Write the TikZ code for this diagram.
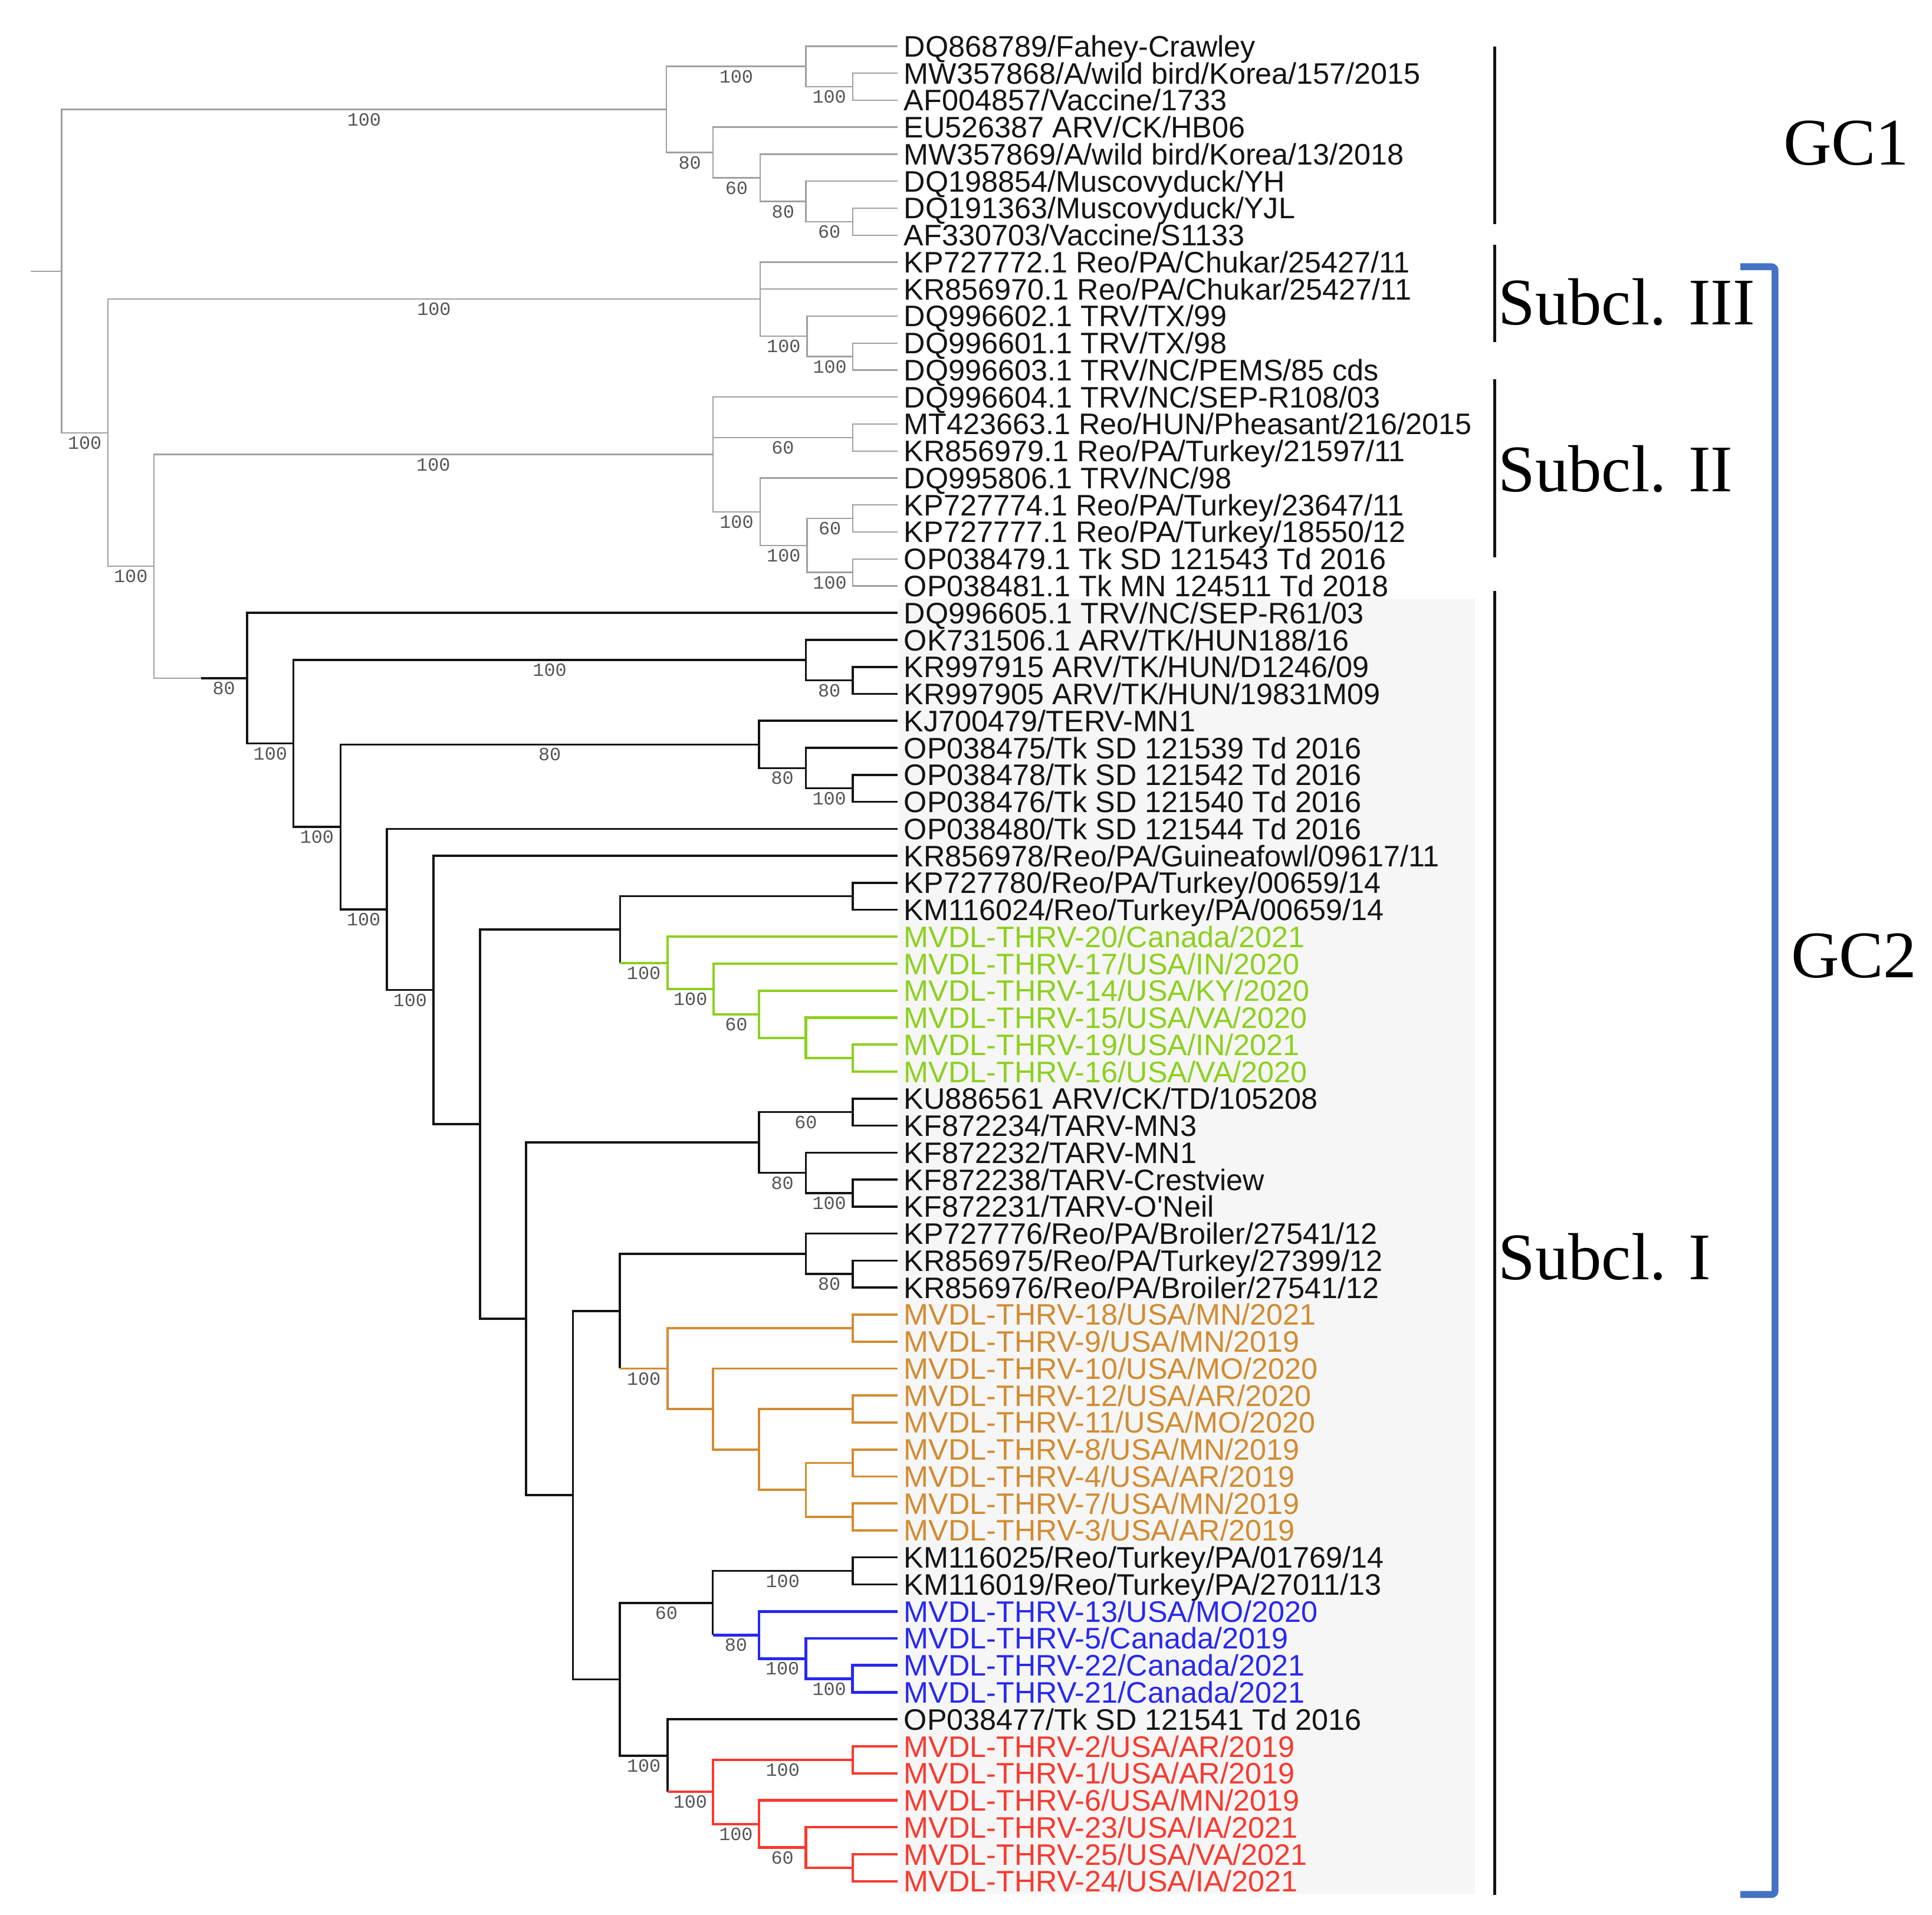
\documentclass[tikz,border=0pt]{standalone}
\usepackage{fontspec}
\newfontfamily\leaffont{Liberation Sans}
\newfontfamily\bsfont{Liberation Mono}
\newfontfamily\cladefont{Liberation Serif}
\definecolor{gryc}{RGB}{160,160,160}
\definecolor{blkc}{RGB}{20,20,20}
\definecolor{grnc}{RGB}{141,208,30}
\definecolor{orgc}{RGB}{210,140,50}
\definecolor{bluc}{RGB}{40,40,240}
\definecolor{redc}{RGB}{248,58,48}
\definecolor{brkc}{RGB}{68,114,196}
\definecolor{bgc}{RGB}{246,246,246}
\definecolor{labc}{RGB}{85,85,85}
\newcommand\phyL[4]{\draw[#1] (#2) |- (#3) node[bs,pos=0.75]{#4};}
\newcommand\phyE[3]{\draw[#1] (#2) |- (#3);}
\newcommand\phyLeaf[3]{\node[leafn,#1] (l#2) at (728.5,{37.5+21.9*(#2-1)}) {#3};}
\begin{document}
\begin{tikzpicture}[x=0.5pt,y=-0.5pt,
  gryE/.style={draw=gryc, line width=0.55pt},
  blkE/.style={draw=blkc, line width=0.85pt},
  grnE/.style={draw=grnc, line width=1pt},
  orgE/.style={draw=orgc, line width=0.9pt},
  bluE/.style={draw=bluc, line width=1.15pt},
  redE/.style={draw=redc, line width=1pt},
  bs/.style={font={\bsfont\fontsize{7.6}{9}\selectfont}, text=labc, inner sep=0pt, yshift=-4.1pt},
  leafn/.style={font={\leaffont\fontsize{12.05}{14}\selectfont}, anchor=west, inner xsep=2.4pt, inner ysep=0pt, text height=8.63pt, text depth=0pt, text=blkc},
  gl/.style={text=grnc}, ol/.style={text=orgc}, ul/.style={text=bluc}, rl/.style={text=redc},
  clade/.style={font={\cladefont\fontsize{27}{30}\selectfont}, inner sep=0pt, text height=17.9pt, text depth=0pt, text=black},
  cbar/.style={draw=blkc, line width=1.2pt}
]
\useasboundingbox (0,0) rectangle (1568,1554);
% background of subclade I labels
\fill[bgc] (729,486) rectangle (1197,1537);

% ---------- internal nodes ----------
\coordinate (rootstub) at (24.8,220);
\coordinate (root) at (50,220);
\coordinate (gc1) at (541,88.8);
\coordinate (a123) at (654,53.9);
\coordinate (a23) at (692,70.35);
\coordinate (a48) at (578.6,123.75);
\coordinate (a58) at (617,144.3);
\coordinate (a68) at (654,163.4);
\coordinate (a78) at (692,179.85);
\coordinate (n2) at (87.5,351.2);
\coordinate (s3) at (617,242.8);
\coordinate (b1113) at (655,272.9);
\coordinate (b1213) at (692,289.35);
\coordinate (n3) at (124.8,459.6);
\coordinate (s2) at (578.6,368.75);
\coordinate (c1516) at (692,355.05);
\coordinate (c1721) at (617,415.3);
\coordinate (c1821) at (655,442.65);
\coordinate (c1819) at (692,420.75);
\coordinate (c2021) at (692,464.55);
\coordinate (sIg) at (163,550.4);
\coordinate (d22) at (200.5,550.4);
\coordinate (d23) at (238.2,603.4);
\coordinate (d2325) at (654,535.7);
\coordinate (d2425) at (692,552.15);
\coordinate (d26) at (276.3,671.1);
\coordinate (d2629) at (616,604.2);
\coordinate (d2729) at (654,623.3);
\coordinate (d2829) at (692,639.75);
\coordinate (d30) at (314,738.0);
\coordinate (d31) at (351.7,803.4);
\coordinate (d32) at (389.6,912.35);
\coordinate (d3239) at (503.2,754.4);
\coordinate (d3233) at (692,727.35);
\coordinate (g3439) at (541.7,781.4);
\coordinate (g3539) at (579,802.6);
\coordinate (g3639) at (616,823.15);
\coordinate (g3739) at (654,842.3);
\coordinate (g3839) at (692,858.75);
\coordinate (e40) at (427,1070.3);
\coordinate (e4044) at (616,927.2);
\coordinate (e4041) at (692,902.55);
\coordinate (e4244) at (654,951.8);
\coordinate (e4344) at (692,968.25);
\coordinate (f45) at (465,1213.4);
\coordinate (f4556) at (503.1,1064.05);
\coordinate (f4547) at (654,1017.5);
\coordinate (f4647) at (692,1033.95);
\coordinate (o4856) at (541.9,1110.6);
\coordinate (o4849) at (692,1077.75);
\coordinate (o5056) at (578.5,1143.45);
\coordinate (o5156) at (616,1176.3);
\coordinate (o5152) at (692,1143.45);
\coordinate (o5356) at (654,1209.15);
\coordinate (o5354) at (692,1187.25);
\coordinate (o5556) at (692,1231.05);
\coordinate (k5769) at (503.1,1362.8);
\coordinate (k5762) at (578.5,1300.9);
\coordinate (k5758) at (692,1274.85);
\coordinate (u5962) at (616,1326.9);
\coordinate (u6062) at (654,1346.0);
\coordinate (u6162) at (692,1362.45);
\coordinate (r6369) at (541.9,1424.75);
\coordinate (r6469) at (578.5,1454.2);
\coordinate (r6465) at (692,1428.15);
\coordinate (r6669) at (616,1480.2);
\coordinate (r6769) at (654,1499.3);
\coordinate (r6869) at (692,1515.75);

% ---------- leaves ----------
\phyLeaf{}{1}{DQ868789/Fahey-Crawley}
\phyLeaf{}{2}{MW357868/A/wild bird/Korea/157/2015}
\phyLeaf{}{3}{AF004857/Vaccine/1733}
\phyLeaf{}{4}{EU526387 ARV/CK/HB06}
\phyLeaf{}{5}{MW357869/A/wild bird/Korea/13/2018}
\phyLeaf{}{6}{DQ198854/Muscovyduck/YH}
\phyLeaf{}{7}{DQ191363/Muscovyduck/YJL}
\phyLeaf{}{8}{AF330703/Vaccine/S1133}
\phyLeaf{}{9}{KP727772.1 Reo/PA/Chukar/25427/11}
\phyLeaf{}{10}{KR856970.1 Reo/PA/Chukar/25427/11}
\phyLeaf{}{11}{DQ996602.1 TRV/TX/99}
\phyLeaf{}{12}{DQ996601.1 TRV/TX/98}
\phyLeaf{}{13}{DQ996603.1 TRV/NC/PEMS/85 cds}
\phyLeaf{}{14}{DQ996604.1 TRV/NC/SEP-R108/03}
\phyLeaf{}{15}{MT423663.1 Reo/HUN/Pheasant/216/2015}
\phyLeaf{}{16}{KR856979.1 Reo/PA/Turkey/21597/11}
\phyLeaf{}{17}{DQ995806.1 TRV/NC/98}
\phyLeaf{}{18}{KP727774.1 Reo/PA/Turkey/23647/11}
\phyLeaf{}{19}{KP727777.1 Reo/PA/Turkey/18550/12}
\phyLeaf{}{20}{OP038479.1 Tk SD 121543 Td 2016}
\phyLeaf{}{21}{OP038481.1 Tk MN 124511 Td 2018}
\phyLeaf{}{22}{DQ996605.1 TRV/NC/SEP-R61/03}
\phyLeaf{}{23}{OK731506.1 ARV/TK/HUN188/16}
\phyLeaf{}{24}{KR997915 ARV/TK/HUN/D1246/09}
\phyLeaf{}{25}{KR997905 ARV/TK/HUN/19831M09}
\phyLeaf{}{26}{KJ700479/TERV-MN1}
\phyLeaf{}{27}{OP038475/Tk SD 121539 Td 2016}
\phyLeaf{}{28}{OP038478/Tk SD 121542 Td 2016}
\phyLeaf{}{29}{OP038476/Tk SD 121540 Td 2016}
\phyLeaf{}{30}{OP038480/Tk SD 121544 Td 2016}
\phyLeaf{}{31}{KR856978/Reo/PA/Guineafowl/09617/11}
\phyLeaf{}{32}{KP727780/Reo/PA/Turkey/00659/14}
\phyLeaf{}{33}{KM116024/Reo/Turkey/PA/00659/14}
\phyLeaf{gl}{34}{MVDL-THRV-20/Canada/2021}
\phyLeaf{gl}{35}{MVDL-THRV-17/USA/IN/2020}
\phyLeaf{gl}{36}{MVDL-THRV-14/USA/KY/2020}
\phyLeaf{gl}{37}{MVDL-THRV-15/USA/VA/2020}
\phyLeaf{gl}{38}{MVDL-THRV-19/USA/IN/2021}
\phyLeaf{gl}{39}{MVDL-THRV-16/USA/VA/2020}
\phyLeaf{}{40}{KU886561 ARV/CK/TD/105208}
\phyLeaf{}{41}{KF872234/TARV-MN3}
\phyLeaf{}{42}{KF872232/TARV-MN1}
\phyLeaf{}{43}{KF872238/TARV-Crestview}
\phyLeaf{}{44}{KF872231/TARV-O'Neil}
\phyLeaf{}{45}{KP727776/Reo/PA/Broiler/27541/12}
\phyLeaf{}{46}{KR856975/Reo/PA/Turkey/27399/12}
\phyLeaf{}{47}{KR856976/Reo/PA/Broiler/27541/12}
\phyLeaf{ol}{48}{MVDL-THRV-18/USA/MN/2021}
\phyLeaf{ol}{49}{MVDL-THRV-9/USA/MN/2019}
\phyLeaf{ol}{50}{MVDL-THRV-10/USA/MO/2020}
\phyLeaf{ol}{51}{MVDL-THRV-12/USA/AR/2020}
\phyLeaf{ol}{52}{MVDL-THRV-11/USA/MO/2020}
\phyLeaf{ol}{53}{MVDL-THRV-8/USA/MN/2019}
\phyLeaf{ol}{54}{MVDL-THRV-4/USA/AR/2019}
\phyLeaf{ol}{55}{MVDL-THRV-7/USA/MN/2019}
\phyLeaf{ol}{56}{MVDL-THRV-3/USA/AR/2019}
\phyLeaf{}{57}{KM116025/Reo/Turkey/PA/01769/14}
\phyLeaf{}{58}{KM116019/Reo/Turkey/PA/27011/13}
\phyLeaf{ul}{59}{MVDL-THRV-13/USA/MO/2020}
\phyLeaf{ul}{60}{MVDL-THRV-5/Canada/2019}
\phyLeaf{ul}{61}{MVDL-THRV-22/Canada/2021}
\phyLeaf{ul}{62}{MVDL-THRV-21/Canada/2021}
\phyLeaf{}{63}{OP038477/Tk SD 121541 Td 2016}
\phyLeaf{rl}{64}{MVDL-THRV-2/USA/AR/2019}
\phyLeaf{rl}{65}{MVDL-THRV-1/USA/AR/2019}
\phyLeaf{rl}{66}{MVDL-THRV-6/USA/MN/2019}
\phyLeaf{rl}{67}{MVDL-THRV-23/USA/IA/2021}
\phyLeaf{rl}{68}{MVDL-THRV-25/USA/VA/2021}
\phyLeaf{rl}{69}{MVDL-THRV-24/USA/IA/2021}

% ---------- grey part of the tree ----------
\draw[gryE] (rootstub) -- (root);
\phyL{gryE}{root}{gc1}{100}
\phyL{gryE}{root}{n2}{100}
\phyL{gryE}{gc1}{a123}{100}
\phyE{gryE}{a123}{l1.west}
\phyL{gryE}{a123}{a23}{100}
\phyE{gryE}{a23}{l2.west}
\phyE{gryE}{a23}{l3.west}
\phyL{gryE}{gc1}{a48}{80}
\phyE{gryE}{a48}{l4.west}
\phyL{gryE}{a48}{a58}{60}
\phyE{gryE}{a58}{l5.west}
\phyL{gryE}{a58}{a68}{80}
\phyE{gryE}{a68}{l6.west}
\phyL{gryE}{a68}{a78}{60}
\phyE{gryE}{a78}{l7.west}
\phyE{gryE}{a78}{l8.west}
\phyL{gryE}{n2}{s3}{100}
\phyE{gryE}{s3}{l9.west}
\phyE{gryE}{s3}{l10.west}
\phyL{gryE}{s3}{b1113}{100}
\phyE{gryE}{b1113}{l11.west}
\phyL{gryE}{b1113}{b1213}{100}
\phyE{gryE}{b1213}{l12.west}
\phyE{gryE}{b1213}{l13.west}
\phyL{gryE}{n2}{n3}{100}
\phyL{gryE}{n3}{s2}{100}
\phyE{gryE}{s2}{l14.west}
\phyL{gryE}{s2}{c1516}{60}
\phyE{gryE}{c1516}{l15.west}
\phyE{gryE}{c1516}{l16.west}
\phyL{gryE}{s2}{c1721}{100}
\phyE{gryE}{c1721}{l17.west}
\phyL{gryE}{c1721}{c1821}{100}
\phyL{gryE}{c1821}{c1819}{60}
\phyE{gryE}{c1819}{l18.west}
\phyE{gryE}{c1819}{l19.west}
\phyL{gryE}{c1821}{c2021}{100}
\phyE{gryE}{c2021}{l20.west}
\phyE{gryE}{c2021}{l21.west}
\phyE{gryE}{n3}{sIg}

% ---------- subclade I (black) ----------
\draw[blkE] (sIg) -- (d22) node[bs,midway]{80};
\phyE{blkE}{d22}{l22.west}
\phyL{blkE}{d22}{d23}{100}
\phyL{blkE}{d23}{d2325}{100}
\phyE{blkE}{d2325}{l23.west}
\phyL{blkE}{d2325}{d2425}{80}
\phyE{blkE}{d2425}{l24.west}
\phyE{blkE}{d2425}{l25.west}
\phyL{blkE}{d23}{d26}{100}
\phyL{blkE}{d26}{d2629}{80}
\phyE{blkE}{d2629}{l26.west}
\phyL{blkE}{d2629}{d2729}{80}
\phyE{blkE}{d2729}{l27.west}
\phyL{blkE}{d2729}{d2829}{100}
\phyE{blkE}{d2829}{l28.west}
\phyE{blkE}{d2829}{l29.west}
\phyL{blkE}{d26}{d30}{100}
\phyE{blkE}{d30}{l30.west}
\phyL{blkE}{d30}{d31}{100}
\phyE{blkE}{d31}{l31.west}
\phyE{blkE}{d31}{d32}
\phyE{blkE}{d32}{d3239}
\phyE{blkE}{d3239}{d3233}
\phyE{blkE}{d3233}{l32.west}
\phyE{blkE}{d3233}{l33.west}
% green clade
\draw[blkE] (d3239) -- (d3239 |- g3439);
\draw[grnE] (d3239 |- g3439) -- (g3439) node[bs,midway]{100};
\phyE{grnE}{g3439}{l34.west}
\phyL{grnE}{g3439}{g3539}{100}
\phyE{grnE}{g3539}{l35.west}
\phyL{grnE}{g3539}{g3639}{60}
\phyE{grnE}{g3639}{l36.west}
\phyE{grnE}{g3639}{g3739}
\phyE{grnE}{g3739}{l37.west}
\phyE{grnE}{g3739}{g3839}
\phyE{grnE}{g3839}{l38.west}
\phyE{grnE}{g3839}{l39.west}
% TARV group
\phyE{blkE}{d32}{e40}
\phyE{blkE}{e40}{e4044}
\phyL{blkE}{e4044}{e4041}{60}
\phyE{blkE}{e4041}{l40.west}
\phyE{blkE}{e4041}{l41.west}
\phyL{blkE}{e4044}{e4244}{80}
\phyE{blkE}{e4244}{l42.west}
\phyL{blkE}{e4244}{e4344}{100}
\phyE{blkE}{e4344}{l43.west}
\phyE{blkE}{e4344}{l44.west}
\phyE{blkE}{e40}{f45}
\phyE{blkE}{f45}{f4556}
\phyE{blkE}{f4556}{f4547}
\phyE{blkE}{f4547}{l45.west}
\phyL{blkE}{f4547}{f4647}{80}
\phyE{blkE}{f4647}{l46.west}
\phyE{blkE}{f4647}{l47.west}
% orange clade
\draw[blkE] (f4556) -- (f4556 |- o4856);
\draw[orgE] (f4556 |- o4856) -- (o4856) node[bs,midway]{100};
\phyE{orgE}{o4856}{o4849}
\phyE{orgE}{o4849}{l48.west}
\phyE{orgE}{o4849}{l49.west}
\phyE{orgE}{o4856}{o5056}
\phyE{orgE}{o5056}{l50.west}
\phyE{orgE}{o5056}{o5156}
\phyE{orgE}{o5156}{o5152}
\phyE{orgE}{o5152}{l51.west}
\phyE{orgE}{o5152}{l52.west}
\phyE{orgE}{o5156}{o5356}
\phyE{orgE}{o5356}{o5354}
\phyE{orgE}{o5354}{l53.west}
\phyE{orgE}{o5354}{l54.west}
\phyE{orgE}{o5356}{o5556}
\phyE{orgE}{o5556}{l55.west}
\phyE{orgE}{o5556}{l56.west}
% lower group
\phyE{blkE}{f45}{k5769}
\phyL{blkE}{k5769}{k5762}{60}
\phyL{blkE}{k5762}{k5758}{100}
\phyE{blkE}{k5758}{l57.west}
\phyE{blkE}{k5758}{l58.west}
% blue clade
\draw[blkE] (k5762) -- (k5762 |- u5962);
\draw[bluE] (k5762 |- u5962) -- (u5962) node[bs,midway]{80};
\phyE{bluE}{u5962}{l59.west}
\phyL{bluE}{u5962}{u6062}{100}
\phyE{bluE}{u6062}{l60.west}
\phyL{bluE}{u6062}{u6162}{100}
\phyE{bluE}{u6162}{l61.west}
\phyE{bluE}{u6162}{l62.west}
% red clade
\phyL{blkE}{k5769}{r6369}{100}
\phyE{blkE}{r6369}{l63.west}
\draw[blkE] (r6369) -- (r6369 |- r6469);
\draw[redE] (r6369 |- r6469) -- (r6469) node[bs,midway]{100};
\phyL{redE}{r6469}{r6465}{100}
\phyE{redE}{r6465}{l64.west}
\phyE{redE}{r6465}{l65.west}
\phyL{redE}{r6469}{r6669}{100}
\phyE{redE}{r6669}{l66.west}
\phyL{redE}{r6669}{r6769}{60}
\phyE{redE}{r6769}{l67.west}
\phyE{redE}{r6769}{r6869}
\phyE{redE}{r6869}{l68.west}
\phyE{redE}{r6869}{l69.west}

% ---------- clade bars and labels ----------
\draw[cbar] (1213,37.6) -- (1213,182);
\draw[cbar] (1213,198.8) -- (1213,277.7);
\draw[cbar] (1213,307.9) -- (1213,452.3);
\draw[cbar] (1213,479.8) -- (1213,1538);
\draw[draw=brkc, line width=2.8pt, rounded corners=1.5pt]
  (1412.5,216.5) -- (1440.6,216.5) -- (1440.6,1537.5) -- (1412.5,1537.5);
\node[clade] (tGC1) at (1498.5,115.7) {GC1};
\node[clade, anchor=west] (tS3) at (1215.5,245.7) {Subcl. III};
\node[clade, anchor=west] (tS2) at (1215.5,381) {Subcl. II};
\node[clade, anchor=west] (tS1) at (1215.5,1020.4) {Subcl. I};
\node[clade] (tGC2) at (1504.6,775.2) {GC2};
\end{tikzpicture}
\end{document}
